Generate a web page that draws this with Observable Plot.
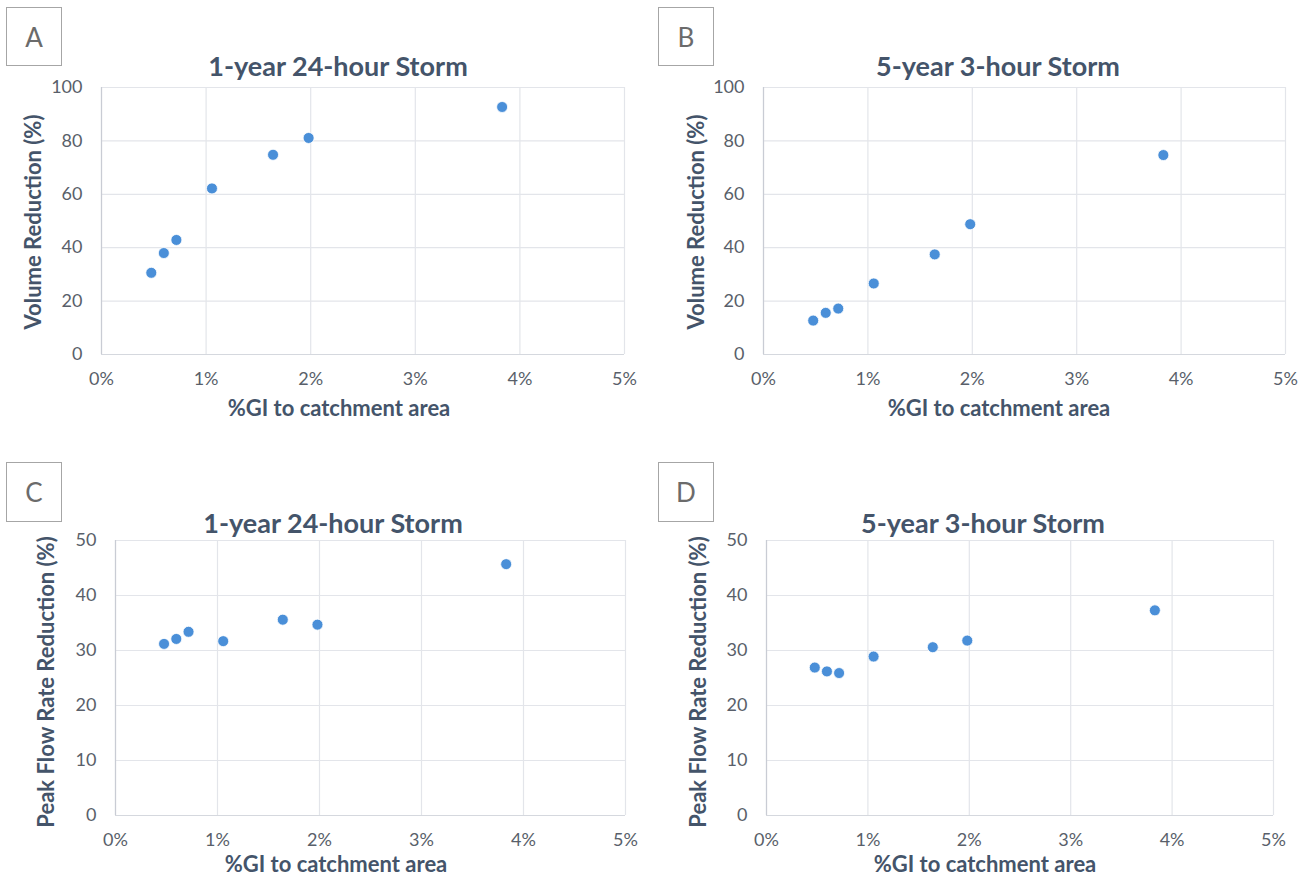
<!DOCTYPE html>
<html>
<head>
<meta charset="utf-8">
<script src="https://cdn.jsdelivr.net/npm/d3@7"></script>
<script src="https://cdn.jsdelivr.net/npm/@observablehq/plot@0.6"></script>
<style>
  html, body { margin: 0; padding: 0; background: #fff; }
  #root { position: relative; width: 1309px; height: 876px; overflow: hidden; font-family: Lato, "Open Sans", sans-serif; }
  .box { position: absolute; border: 1px solid #a6a6a6; color: #6b6b6b; font-size: 26px; display: flex; align-items: center; justify-content: center; box-sizing: border-box; }
  .title { position: absolute; transform: translate(-50%, -50%); white-space: nowrap; font-weight: bold; font-size: 27px; color: #44546a; }
  .xlab { position: absolute; transform: translate(-50%, -50%); white-space: nowrap; font-weight: bold; font-size: 22px; color: #44546a; }
  .ylab { position: absolute; transform: translate(-50%, -50%) rotate(-90deg); white-space: nowrap; font-weight: bold; font-size: 22px; color: #44546a; }
</style>
</head>
<body>
<div id="root"></div>
<script>
// Data
const giPercent = [0.476, 0.596, 0.716, 1.056, 1.64, 1.98, 3.83];
const volume1yr24h = [30.6, 38.0, 42.9, 62.2, 74.8, 81.1, 92.7];
const volume5yr3h = [12.7, 15.6, 17.2, 26.6, 37.5, 48.8, 74.7];
const peak1yr24h = [31.2, 32.1, 33.4, 31.7, 35.6, 34.7, 45.7];
const peak5yr3h = [26.9, 26.2, 25.9, 28.9, 30.6, 31.8, 37.3];
const xTicks = [0, 1, 2, 3, 4, 5];
const volTicks = [0, 20, 40, 60, 80, 100];
const peakTicks = [0, 10, 20, 30, 40, 50];
const xTitle = "%GI to catchment area";
const volTitle = "Volume Reduction (%)";
const peakTitle = "Peak Flow Rate Reduction (%)";

const panels = [
  {letter: "A", title: "1-year 24-hour Storm", ylabel: volTitle, values: volume1yr24h, yTicks: volTicks, yMax: 100,
   ox: 0, oy: 0, w: 654, h: 440, left: 101, right: 624, top: 87, bottom: 354,
   box: [6, 7, 56, 59], tx: 338, ty: 65, xlx: 339, xly: 407, ylx: 32, yly: 222},
  {letter: "B", title: "5-year 3-hour Storm", ylabel: volTitle, values: volume5yr3h, yTicks: volTicks, yMax: 100,
   ox: 655, oy: 0, w: 654, h: 440, left: 763, right: 1285, top: 87, bottom: 354,
   box: [658, 7, 56, 59], tx: 998, ty: 65, xlx: 999, xly: 407, ylx: 695, yly: 222},
  {letter: "C", title: "1-year 24-hour Storm", ylabel: peakTitle, values: peak1yr24h, yTicks: peakTicks, yMax: 50,
   ox: 0, oy: 460, w: 654, h: 416, left: 115, right: 625, top: 540, bottom: 815,
   box: [6, 462, 56, 60], tx: 333, ty: 522, xlx: 336, xly: 863, ylx: 45, yly: 682},
  {letter: "D", title: "5-year 3-hour Storm", ylabel: peakTitle, values: peak5yr3h, yTicks: peakTicks, yMax: 50,
   ox: 655, oy: 460, w: 654, h: 416, left: 766, right: 1273, top: 540, bottom: 815,
   box: [658, 462, 56, 60], tx: 983, ty: 522, xlx: 985, xly: 863, ylx: 697, yly: 682}
];

const root = document.getElementById("root");

for (const p of panels) {
  const data = giPercent.map((x, i) => ({x, y: p.values[i]}));
  const chart = Plot.plot({
    width: p.w,
    height: p.h,
    marginLeft: p.left - p.ox,
    marginRight: p.ox + p.w - p.right,
    marginTop: p.top - p.oy,
    marginBottom: p.oy + p.h - p.bottom,
    style: {fontFamily: "Lato, 'Open Sans', sans-serif", fontSize: "18px", color: "#595f6a", background: "transparent", overflow: "visible"},
    x: {domain: [0, 5], ticks: xTicks, tickFormat: d => d + "%", tickSize: 0, tickPadding: 19, label: null},
    y: {domain: [0, p.yMax], ticks: p.yTicks, tickSize: 0, tickPadding: 19, label: null},
    marks: [
      Plot.gridX(xTicks, {stroke: "#e3e5ea", strokeOpacity: 1, strokeWidth: 1.2}),
      Plot.gridY(p.yTicks, {stroke: "#e3e5ea", strokeOpacity: 1, strokeWidth: 1.2}),
      Plot.ruleX([0], {stroke: "#c9ccd4", strokeWidth: 1.2}),
      Plot.ruleY([0], {stroke: "#d5d8de", strokeWidth: 1.2}),
      Plot.axisX(xTicks, {tickFormat: d => d + "%", tickSize: 0, tickPadding: 18, fontSize: 18}),
      Plot.axisY(p.yTicks, {tickSize: 0, tickPadding: 19, fontSize: 18}),
      Plot.dot(data, {x: "x", y: "y", r: 5.5, fill: "#4a8fd8", stroke: "#ffffff", strokeWidth: 0.8})
    ]
  });
  chart.style.position = "absolute";
  chart.style.left = p.ox + "px";
  chart.style.top = p.oy + "px";
  root.appendChild(chart);

  const box = document.createElement("div");
  box.className = "box";
  box.textContent = p.letter;
  Object.assign(box.style, {left: p.box[0] + "px", top: p.box[1] + "px", width: p.box[2] + "px", height: p.box[3] + "px"});
  root.appendChild(box);

  const t = document.createElement("div");
  t.className = "title";
  t.textContent = p.title;
  Object.assign(t.style, {left: p.tx + "px", top: p.ty + "px"});
  root.appendChild(t);

  const xl = document.createElement("div");
  xl.className = "xlab";
  xl.textContent = xTitle;
  Object.assign(xl.style, {left: p.xlx + "px", top: p.xly + "px"});
  root.appendChild(xl);

  const yl = document.createElement("div");
  yl.className = "ylab";
  yl.textContent = p.ylabel;
  Object.assign(yl.style, {left: p.ylx + "px", top: p.yly + "px"});
  root.appendChild(yl);
}
</script>
</body>
</html>
